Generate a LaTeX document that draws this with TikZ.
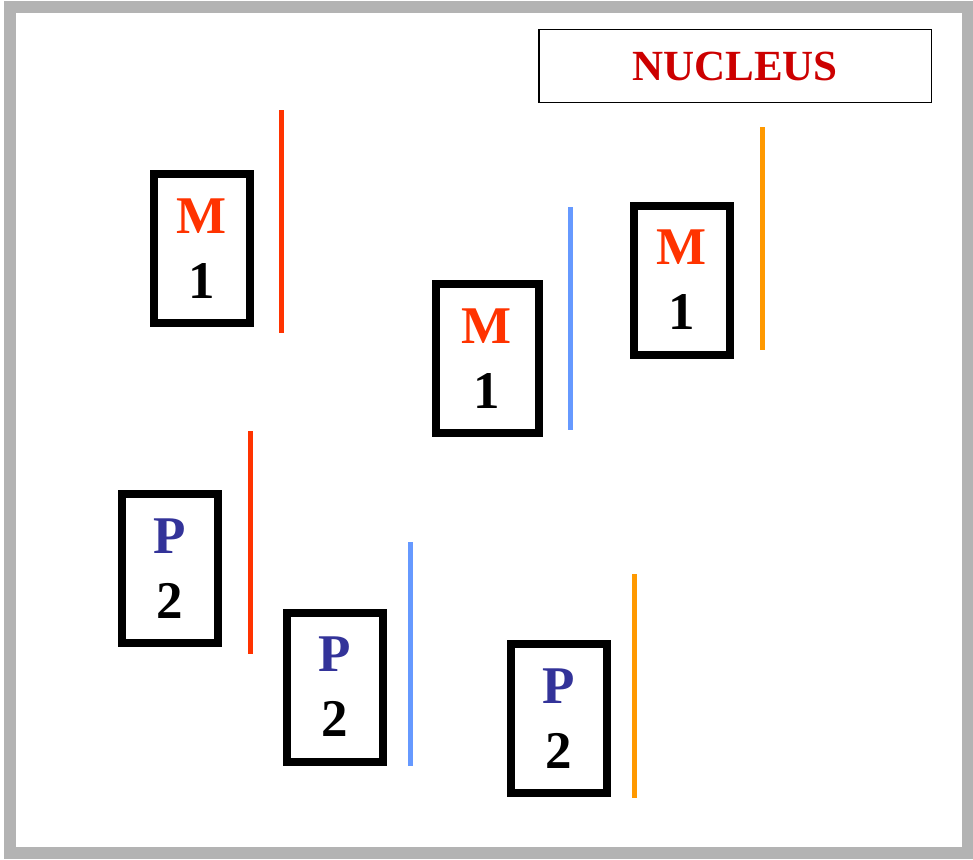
\documentclass[tikz,border=0pt]{standalone}
\usepackage{fontspec}
\setmainfont{Liberation Serif}
\definecolor{frame}{HTML}{B3B3B3}
\definecolor{mred}{HTML}{FF3300}
\definecolor{pblue}{HTML}{333399}
\definecolor{lblue}{HTML}{6699FF}
\definecolor{lorange}{HTML}{FF9900}
\definecolor{nred}{HTML}{CC0000}

\tikzset{
  chrom/.style={draw=black, line width=8pt, minimum width=96pt, minimum height=149pt,
    inner sep=0pt, align=center, font=\fontsize{53}{65}\selectfont\bfseries},
  strand/.style={line width=5pt},
}

\begin{document}
\begin{tikzpicture}[x=1pt,y=-1pt]
    \useasboundingbox (0,0) rectangle (973,859);

    % Frame
    \draw[frame, line width=12pt] (10,7) rectangle (967.5,853);

    % Nucleus label
    \node[draw=black, line width=1.5pt, minimum width=392.5pt, minimum height=72.5pt,
          text=nred, font=\fontsize{43}{50}\selectfont\bfseries] (nucleus) at (735,66) {NUCLEUS};

    % Maternal chromosomes
    \foreach \x/\y/\w/\name in {202/248.5/96/ma, 487/358.5/103/mb, 682/280/96/mc} {
        \node[chrom, minimum width=\w pt] (\name) at (\x,\y) {\textcolor{mred}{M}\\1};
    }

    % Paternal chromosomes
    \foreach \x/\y/\name in {170/568.5/pa, 335/687/pb, 559/718.5/pc} {
        \node[chrom] (\name) at (\x,\y) {\textcolor{pblue}{P}\\2};
    }

    % Strands
    \foreach \x/\top/\bot/\col in {281/110/333/mred, 570/207/430/lblue, 762/127/350/lorange,
                                   250/431/654/mred, 410/542/766/lblue, 634/574/798/lorange} {
        \draw[strand, \col] (\x,\top) -- (\x,\bot);
    }
\end{tikzpicture}
\end{document}
